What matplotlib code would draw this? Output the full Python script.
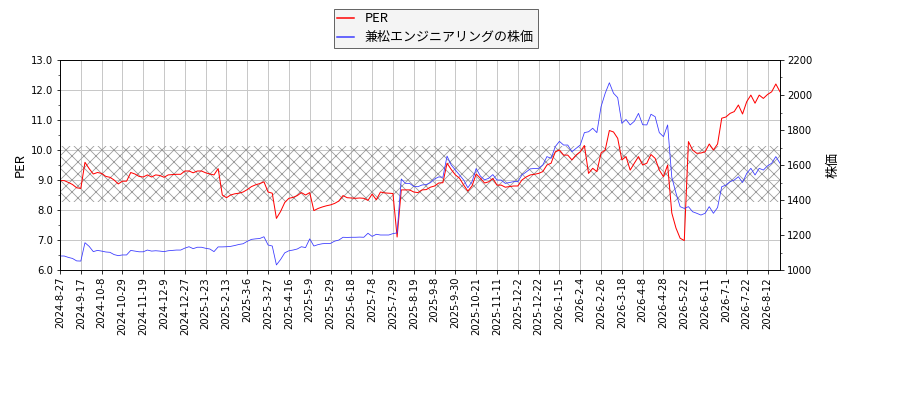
#!/usr/bin/env python3
"""PER and share price of Kanematsu Engineering, with a hatched PER band."""

import matplotlib
matplotlib.use("Agg")
import matplotlib.pyplot as plt
from matplotlib.ticker import MultipleLocator, FormatStrFormatter

plt.rcParams["font.family"] = ["DejaVu Sans", "Noto Sans CJK JP"]
plt.rcParams["hatch.linewidth"] = 0.8
JP = ["Noto Sans CJK JP", "DejaVu Sans"]

# one value every 3 trading days
STEP = 3
TICK_EVERY = 15

tick_labels = [
    "2024-8-27", "2024-9-17", "2024-10-8", "2024-10-29", "2024-11-19",
    "2024-12-9", "2024-12-27", "2025-1-23", "2025-2-13", "2025-3-6",
    "2025-3-27", "2025-4-16", "2025-5-9", "2025-5-29", "2025-6-18",
    "2025-7-8", "2025-7-29", "2025-8-19", "2025-9-8", "2025-9-30",
    "2025-10-21", "2025-11-11", "2025-12-2", "2025-12-22", "2026-1-15",
    "2026-2-4", "2026-2-26", "2026-3-18", "2026-4-8", "2026-4-28",
    "2026-5-22", "2026-6-11", "2026-7-1", "2026-7-22", "2026-8-12",
]

per = [
    8.98, 8.98, 8.92, 8.85, 8.74, 8.72, 9.59, 9.38, 9.20, 9.25,
    9.22, 9.12, 9.09, 9.00, 8.87, 8.96, 8.96, 9.25, 9.20, 9.12,
    9.10, 9.17, 9.10, 9.17, 9.15, 9.09, 9.17, 9.18, 9.19, 9.19,
    9.30, 9.30, 9.24, 9.30, 9.30, 9.24, 9.20, 9.17, 9.38, 8.50,
    8.41, 8.50, 8.54, 8.56, 8.60, 8.68, 8.78, 8.84, 8.88, 8.94,
    8.60, 8.56, 7.72, 7.95, 8.25, 8.39, 8.42, 8.48, 8.58, 8.50,
    8.58, 7.98, 8.05, 8.10, 8.14, 8.17, 8.22, 8.30, 8.48, 8.41,
    8.40, 8.39, 8.40, 8.39, 8.32, 8.53, 8.34, 8.60, 8.57, 8.56,
    8.55, 7.10, 8.67, 8.67, 8.67, 8.60, 8.58, 8.67, 8.68, 8.76,
    8.80, 8.90, 8.91, 9.56, 9.35, 9.17, 9.06, 8.83, 8.63, 8.80,
    9.20, 9.06, 8.90, 8.94, 9.05, 8.83, 8.83, 8.76, 8.78, 8.80,
    8.80, 9.00, 9.10, 9.17, 9.19, 9.22, 9.28, 9.50, 9.56, 9.94,
    10.00, 9.83, 9.83, 9.67, 9.83, 9.94, 10.15, 9.22, 9.39, 9.28,
    9.90, 10.00, 10.65, 10.60, 10.39, 9.67, 9.78, 9.33, 9.56, 9.78,
    9.50, 9.56, 9.85, 9.72, 9.33, 9.11, 9.50, 7.90, 7.40, 7.06,
    6.98, 10.28, 10.00, 9.89, 9.90, 9.94, 10.20, 10.00, 10.20, 11.06,
    11.10, 11.22, 11.28, 11.50, 11.20, 11.61, 11.83, 11.56, 11.83, 11.72,
    11.85, 11.94, 12.20, 11.94,
]

price = [
    1080, 1080, 1072, 1066, 1052, 1051, 1156, 1135, 1105, 1112,
    1108, 1103, 1101, 1088, 1082, 1086, 1086, 1112, 1108, 1104,
    1104, 1114, 1108, 1110, 1108, 1105, 1110, 1112, 1114, 1114,
    1125, 1133, 1122, 1130, 1130, 1124, 1120, 1105, 1132, 1132,
    1133, 1135, 1140, 1146, 1150, 1164, 1175, 1178, 1180, 1190,
    1143, 1137, 1029, 1060, 1098, 1110, 1114, 1120, 1133, 1128,
    1178, 1137, 1145, 1150, 1152, 1152, 1165, 1171, 1187, 1186,
    1187, 1187, 1188, 1187, 1210, 1192, 1204, 1200, 1200, 1200,
    1208, 1212, 1520, 1495, 1495, 1478, 1476, 1486, 1488, 1499,
    1520, 1532, 1530, 1651, 1600, 1571, 1543, 1514, 1470, 1505,
    1580, 1537, 1515, 1524, 1545, 1514, 1514, 1495, 1500, 1505,
    1505, 1543, 1560, 1578, 1580, 1581, 1600, 1648, 1638, 1705,
    1735, 1714, 1714, 1676, 1695, 1714, 1785, 1790, 1810, 1785,
    1933, 2010, 2070, 2010, 1985, 1838, 1860, 1829, 1850, 1895,
    1830, 1829, 1890, 1876, 1785, 1762, 1829, 1530, 1440, 1362,
    1352, 1362, 1333, 1324, 1314, 1324, 1362, 1324, 1357, 1476,
    1485, 1505, 1514, 1533, 1500, 1552, 1581, 1543, 1581, 1571,
    1595, 1610, 1648, 1610,
]

band_low, band_high = 8.28, 10.14


def main():
    x = [i * STEP for i in range(len(per))]
    ticks = [k * TICK_EVERY for k in range(len(tick_labels))]

    fig = plt.figure(figsize=(12.5, 400 / 72), dpi=72)
    ax = fig.add_axes([60 / 900, 1 - 270 / 400, 720 / 900, 210 / 400])
    ax2 = ax.twinx()

    ax.axhspan(band_low, band_high, facecolor="none", edgecolor="#999999",
               hatch="xx", linewidth=0, zorder=1)

    l1, = ax.plot(x, per, color="red", linewidth=1, label="PER", zorder=3)
    l2, = ax2.plot(x, price, color="#3a3aff", linewidth=0.8,
                   label="兼松エンジニアリングの株価")

    ax.set_xlim(0, x[-1])
    ax.set_ylim(6, 13)
    ax2.set_ylim(1000, 2200)

    ax.set_xticks(ticks)
    ax.set_xticklabels(tick_labels, rotation=90)
    ax.yaxis.set_major_locator(MultipleLocator(1))
    ax.yaxis.set_minor_locator(MultipleLocator(0.5))
    ax.yaxis.set_major_formatter(FormatStrFormatter("%.1f"))
    ax2.yaxis.set_major_locator(MultipleLocator(200))
    ax2.yaxis.set_minor_locator(MultipleLocator(100))

    ax.grid(True, color="#c8c8c8", linewidth=1)
    ax.set_axisbelow(True)
    ax.set_ylabel("PER", family=JP, fontsize=13)
    ax2.set_ylabel("株価", family=JP, fontsize=13, labelpad=14)

    leg = fig.legend(handles=[l1, l2], loc="center",
                     bbox_to_anchor=(0.484, 0.929),
                     prop={"family": JP, "size": 13},
                     handlelength=1.3, labelspacing=0.45, borderpad=0.3,
                     fancybox=False, facecolor="#f4f4f4",
                     edgecolor="#666666", framealpha=1)
    for line in leg.get_lines():
        line.set_linewidth(1.5)

    fig.savefig("out.png", dpi=72)


if __name__ == "__main__":
    main()
